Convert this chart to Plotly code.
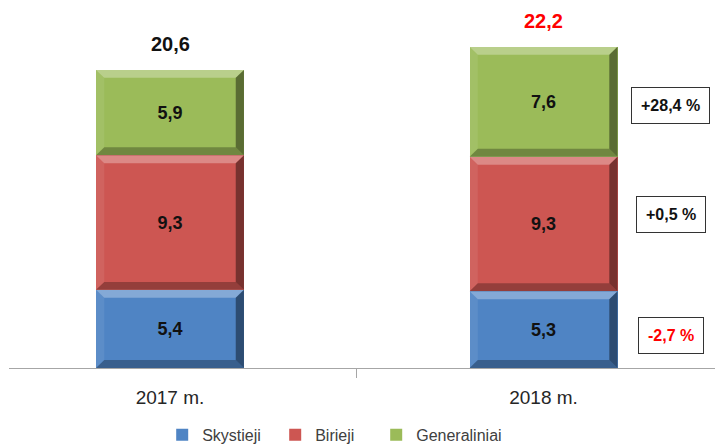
import plotly.graph_objects as go

# data
years = ["2017 m.", "2018 m."]
skystieji = [5.4, 5.3]
birieji = [9.3, 9.3]
generaliniai = [5.9, 7.6]
totals = [20.6, 22.2]
changes = ["-2,7 %", "+0,5 %", "+28,4 %"]  # Skystieji, Birieji, Generaliniai (2018 vs 2017)

# name, values, colour, legend entry width
SERIES = [
    ("Skystieji", skystieji, "#4F84C4", 68),
    ("Birieji", birieji, "#CD5652", 56),
    ("Generaliniai", generaliniai, "#9BBB59", 110),
]

BAR_W = 0.396
BEVEL_X = 0.022
BEVEL_Y = 0.55
LABEL_FONT = "Liberation Sans, Arial, sans-serif"


def fmt(v):
    return f"{v:.1f}".replace(".", ",")


def poly(pts):
    return "M " + " L ".join(f"{x},{y}" for x, y in pts) + " Z"


fig = go.Figure()

for name, vals, color, lw in SERIES:
    fig.add_trace(
        go.Bar(
            x=years,
            y=vals,
            name=name,
            width=BAR_W,
            legendwidth=lw,
            marker=dict(color=color, line=dict(width=0)),
            texttemplate="%{y:.1f}",
            textposition="inside",
            insidetextanchor="middle",
            textfont=dict(family=LABEL_FONT, size=18, color="#111111", weight="bold"),
            hoverinfo="skip",
        )
    )

# bevel edges, built from the stacked values
shapes = []
for i in range(len(years)):
    base = 0
    for _, vals, _, _ in SERIES:
        x0, x1 = i - BAR_W / 2, i + BAR_W / 2
        y0, y1 = base, base + vals[i]
        dx, dy = BEVEL_X, BEVEL_Y
        parts = [
            ([(x0, y1), (x1, y1), (x1 - dx, y1 - dy), (x0 + dx, y1 - dy)], "rgba(255,255,255,0.30)"),
            ([(x0, y0), (x0, y1), (x0 + dx, y1 - dy), (x0 + dx, y0 + dy)], "rgba(255,255,255,0.08)"),
            ([(x0, y0), (x1, y0), (x1 - dx, y0 + dy), (x0 + dx, y0 + dy)], "rgba(0,0,0,0.28)"),
            ([(x1, y0), (x1, y1), (x1 - dx, y1 - dy), (x1 - dx, y0 + dy)], "rgba(0,0,0,0.42)"),
        ]
        for pts, fill in parts:
            shapes.append(dict(
                type="path", xref="x", yref="y", path=poly(pts),
                fillcolor=fill, line=dict(width=0), layer="above",
            ))
        base = y1

annotations = []
total_colors = ["#111111", "#FF0000"]
for i, t in enumerate(totals):
    annotations.append(dict(
        x=years[i], y=t, xref="x", yref="y", text=fmt(t),
        showarrow=False, yanchor="bottom", yshift=13,
        font=dict(family=LABEL_FONT, size=20, color=total_colors[i], weight="bold"),
    ))

# change boxes next to the 2018 bar
base = 0
change_colors = ["#FF0000", "#111111", "#111111"]
change_shift = [-6, 10, -4]
for k, (_, vals, _, _) in enumerate(SERIES):
    mid = base + vals[1] / 2
    base += vals[1]
    annotations.append(dict(
        x=1.34, y=mid, xref="x", yref="y", text=changes[k],
        showarrow=False, yshift=change_shift[k],
        bordercolor="#333333", borderwidth=1, borderpad=9,
        bgcolor="white",
        font=dict(family=LABEL_FONT, size=16, color=change_colors[k], weight="bold"),
    ))

fig.update_layout(
    width=715,
    height=445,
    margin=dict(l=9, r=0, t=10, b=77, autoexpand=False),
    paper_bgcolor="white",
    plot_bgcolor="white",
    barmode="stack",
    separators=",.",
    shapes=shapes,
    annotations=annotations,
    showlegend=True,
    legend=dict(
        orientation="h",
        x=0.217, xanchor="left",
        y=-0.187, yanchor="middle",
        font=dict(family=LABEL_FONT, size=16, color="#404040"),
        itemwidth=30,
        traceorder="normal",
    ),
    xaxis=dict(
        type="category",
        range=[-0.431, 1.459],
        showgrid=False,
        showline=True,
        linecolor="#A6A6A6",
        linewidth=1,
        ticks="outside",
        tickson="boundaries",
        ticklen=9,
        tickcolor="#A6A6A6",
        ticklabelstandoff=12,
        tickfont=dict(family=LABEL_FONT, size=19, color="#262626"),
    ),
    yaxis=dict(
        range=[0, 24.74],
        visible=False,
    ),
)

# page body has a default 8px margin; drop it so the figure sits at the corner
fig.write_html(
    "out.html",
    config={"displayModeBar": False},
    post_script="document.body.style.margin='0';",
)
